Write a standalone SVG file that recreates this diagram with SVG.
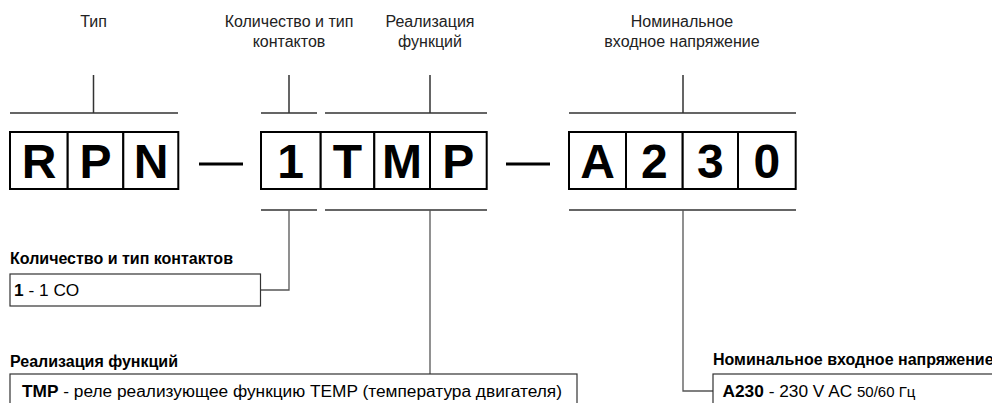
<svg xmlns="http://www.w3.org/2000/svg" width="992" height="403" viewBox="0 0 992 403">
<style>
.lbl{font-family:"Liberation Sans",Arial,sans-serif;font-size:16px;fill:#222;text-anchor:middle}
.big{font-family:"Liberation Sans",Arial,sans-serif;font-size:48px;font-weight:bold;fill:#000;text-anchor:middle}
.cell{fill:#fff;stroke:#000;stroke-width:2}
.ln{stroke:#333;stroke-width:1.5;fill:none}
.con{stroke:#555;stroke-width:1.3;fill:none}
.dash{stroke:#000;stroke-width:3}
.ttl{font-family:"Liberation Sans",Arial,sans-serif;font-size:16px;font-weight:bold;fill:#000}
.txt{font-family:"Liberation Sans",Arial,sans-serif;font-size:17.3px;fill:#000}
.box{fill:#fff;stroke:#333;stroke-width:1.2}
</style>
<rect width="992" height="403" fill="#fff"/>
<g id="labels-top">
<text class="lbl" x="93.5" y="26.5">Тип</text>
<text class="lbl" x="289" y="26.5">Количество и тип</text>
<text class="lbl" x="289" y="46.5">контактов</text>
<text class="lbl" x="430" y="26.5">Реализация</text>
<text class="lbl" x="430" y="46.5">функций</text>
<text class="lbl" x="682" y="26.5">Номинальное</text>
<text class="lbl" x="682" y="46.5">входное напряжение</text>
</g>
<g id="connectors">
<path class="ln" d="M93.5 75V113M10 113H178"/>
<path class="ln" d="M289 75V113M261 113H317"/>
<path class="ln" d="M430 75V113M325 113H487"/>
<path class="ln" d="M683 75V113M569 113H796"/>
<path class="ln" d="M261 210H317M325 210H487M569 210H796"/>
<path class="con" d="M289 210V290H260.5"/>
<path class="con" d="M430 210V374"/>
<path class="con" d="M683 210V391H713"/>
<line class="dash" x1="199" y1="164" x2="243" y2="164"/>
<line class="dash" x1="506" y1="164" x2="550" y2="164"/>
</g>
<g id="code-type">
<rect class="cell" x="10" y="132" width="57.7" height="57"/>
<rect class="cell" x="67.7" y="132" width="55.6" height="57"/>
<rect class="cell" x="123.3" y="132" width="55" height="57"/>
<text class="big" x="39" y="178">R</text>
<text class="big" x="95.5" y="178">P</text>
<text class="big" x="151" y="178">N</text>
</g>
<g id="code-func">
<rect class="cell" x="261" y="132" width="59.7" height="57"/>
<rect class="cell" x="320.7" y="132" width="53.6" height="57"/>
<rect class="cell" x="374.3" y="132" width="55.7" height="57"/>
<rect class="cell" x="430" y="132" width="56.7" height="57"/>
<text class="big" x="290.5" y="178">1</text>
<text class="big" x="347.5" y="178">T</text>
<text class="big" x="402" y="178">M</text>
<text class="big" x="458.3" y="178">P</text>
</g>
<g id="code-volt">
<rect class="cell" x="569" y="132" width="57" height="57"/>
<rect class="cell" x="626" y="132" width="56.7" height="57"/>
<rect class="cell" x="682.7" y="132" width="55.3" height="57"/>
<rect class="cell" x="738" y="132" width="57.7" height="57"/>
<text class="big" x="597.5" y="178">A</text>
<text class="big" x="654.3" y="178">2</text>
<text class="big" x="710.3" y="178">3</text>
<text class="big" x="766.8" y="178">0</text>
</g>
<g id="desc-contacts">
<text class="ttl" x="10" y="264">Количество и тип контактов</text>
<rect class="box" x="10" y="274" width="250.5" height="32"/>
<text class="txt" x="14" y="296"><tspan font-weight="bold">1</tspan> - 1 CO</text>
</g>
<g id="desc-func">
<text class="ttl" x="10" y="367">Реализация функций</text>
<rect class="box" x="10" y="374" width="567" height="40"/>
<text class="txt" x="22" y="397"><tspan font-weight="bold">TMP</tspan> - реле реализующее функцию TEMP (температура двигателя)</text>
</g>
<g id="desc-volt">
<text class="ttl" x="713" y="365">Номинальное входное напряжение</text>
<rect class="box" x="713" y="374" width="300" height="40"/>
<text class="txt" x="722.5" y="397"><tspan font-weight="bold">A230</tspan> - 230 V AC <tspan font-size="15px">50/60 Гц</tspan></text>
</g>
</svg>
